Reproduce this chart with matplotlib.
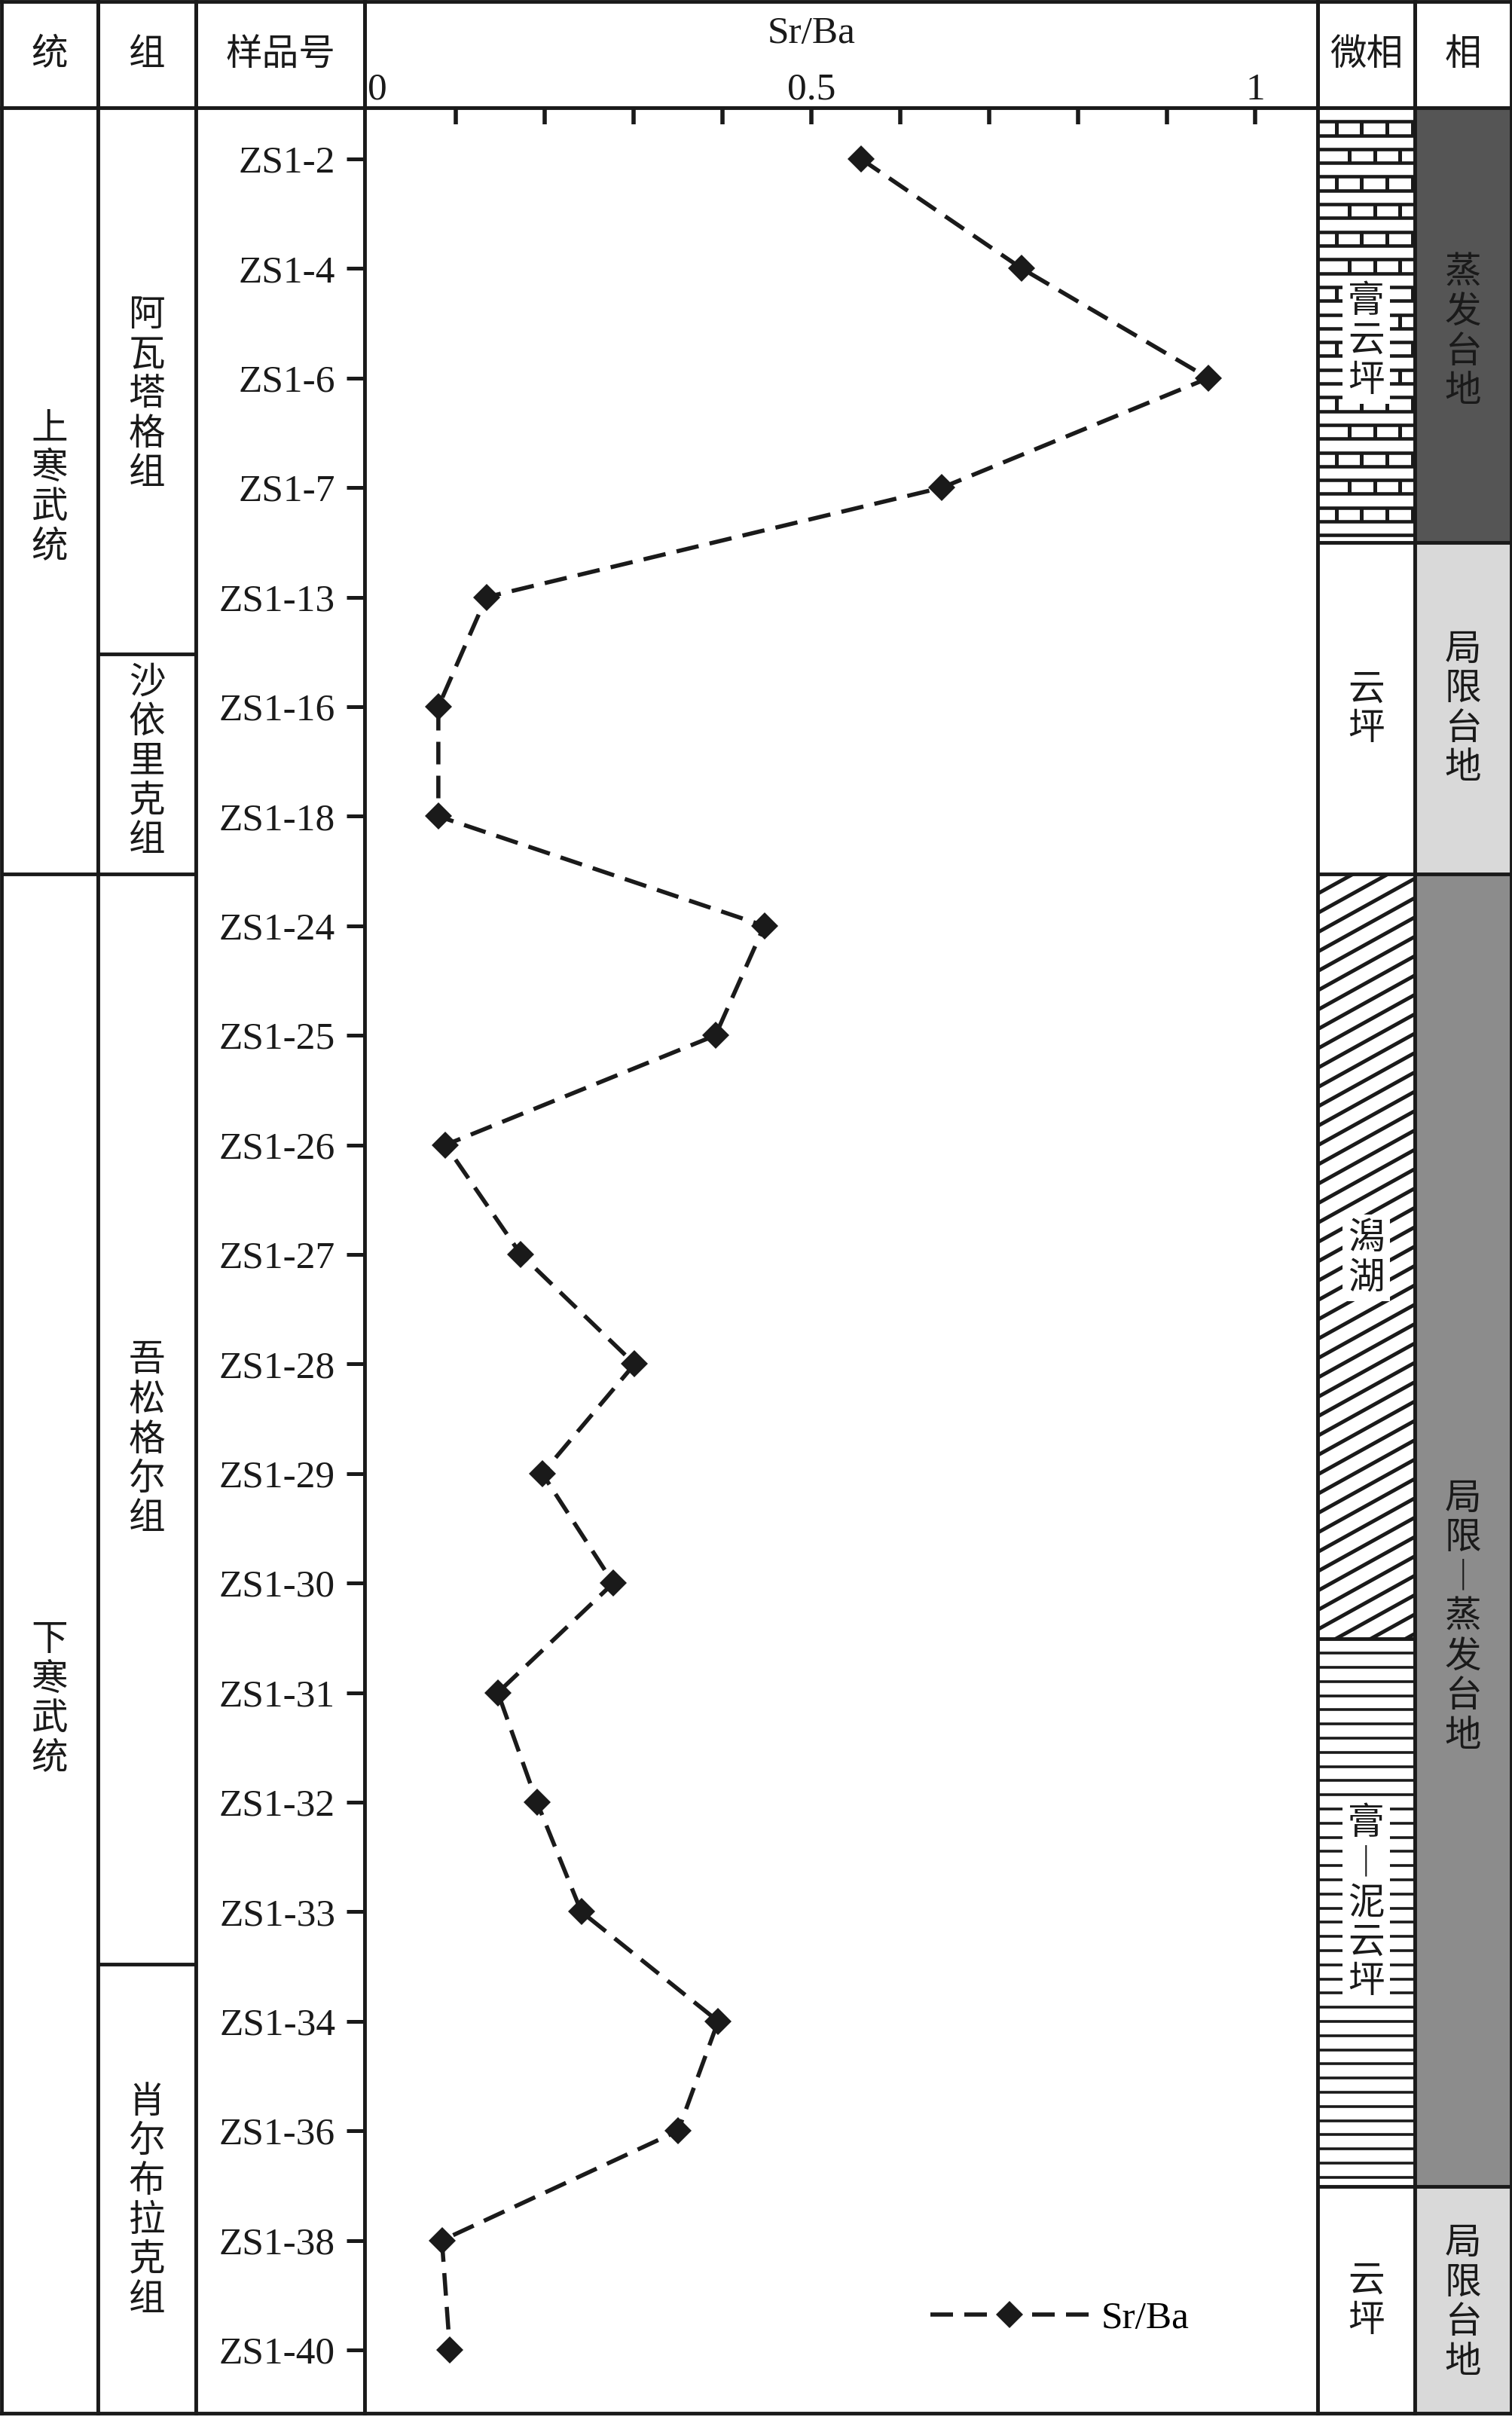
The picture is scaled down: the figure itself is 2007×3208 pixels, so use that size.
import numpy as np
import matplotlib
matplotlib.use("Agg")
import matplotlib.pyplot as plt
from matplotlib.patches import Rectangle
from matplotlib.transforms import blended_transform_factory

CJK = ['Noto Sans CJK SC', 'DejaVu Sans']
LAT = ['Liberation Serif', 'DejaVu Serif']
INK = '#1a1a1a'

####### data #######
samples = ['ZS1-2', 'ZS1-4', 'ZS1-6', 'ZS1-7', 'ZS1-13', 'ZS1-16', 'ZS1-18',
           'ZS1-24', 'ZS1-25', 'ZS1-26', 'ZS1-27', 'ZS1-28', 'ZS1-29', 'ZS1-30',
           'ZS1-31', 'ZS1-32', 'ZS1-33', 'ZS1-34', 'ZS1-36', 'ZS1-38', 'ZS1-40']
sr_ba = [0.556, 0.737, 0.947, 0.647, 0.134, 0.080, 0.080,
         0.447, 0.392, 0.088, 0.173, 0.301, 0.197, 0.277,
         0.147, 0.191, 0.241, 0.395, 0.350, 0.084, 0.093]

xlabel_vals = [0, 0.5, 1]
xlabel_txt = ['0', '0.5', '1']

# boundaries and label centres are in sample-index units
series_names = ['上寒武统', '下寒武统']
series_bounds = [6.53]
series_text_y = [3.0, 14.06]

formation_names = ['阿瓦塔格组', '沙依里克组', '吾松格尔组', '肖尔布拉克组']
formation_bounds = [4.52, 6.53, 16.48]
formation_text_y = [2.15, 5.5, 11.69, 18.64]

micro_names = ['膏云坪', '云坪', '潟湖', '膏—泥云坪', '云坪']
micro_bounds = [3.5, 6.53, 13.51, 18.51]
micro_fill = ['brick', None, 'diag', 'hline', None]
micro_text_y = [1.66, 5.02, 10.03, 15.92, 19.55]

facies_names = ['蒸发台地', '局限台地', '局限—蒸发台地', '局限台地']
facies_bounds = [3.5, 6.53, 18.51]
facies_colors = ['#555555', '#d9d9d9', '#8c8c8c', '#d9d9d9']
facies_text_y = [1.58, 5.02, 13.31, 19.57]

headers = ['统', '组', '样品号', 'Sr/Ba', '微相', '相']

####### layout (pixels) #######
W, H = 2008, 3208
col_edges = [2, 130, 260, 484, 1749, 1878, 2006]
head_top, head_bot, body_bot = 2, 143, 3203
pos = np.arange(len(samples))
y_lo, y_hi = -0.468, len(samples) - 1 + 0.578
ppi = (body_bot - head_bot) / (y_hi - y_lo)   # pixels per sample step
step = 52.5 / ppi                              # vertical char advance
LW = 3.5

fig = plt.figure(figsize=(W / 100, H / 100), dpi=100)


def box(x0, x1, y0, y1):
    return [x0 / W, 1 - y1 / H, (x1 - x0) / W, (y1 - y0) / H]


def style_frame(ax):
    for s in ax.spines.values():
        s.set_linewidth(LW)
        s.set_color(INK)


def spans(bounds):
    e = [y_lo] + list(bounds) + [y_hi]
    return list(zip(e[:-1], e[1:]))


def vtext(ax, x, yc, s, white=False, **kw):
    chars = ['︱' if c == '—' else c for c in s]
    n = len(chars)
    for k, c in enumerate(chars):
        t = ax.text(x, yc + (k - (n - 1) / 2) * step, c, ha='center', va='center',
                    family=CJK, fontsize=35, color=INK, zorder=5, **kw)
        if white:
            t.set_bbox(dict(fc='white', ec='none', pad=5))


# header cells (transparent so the axis tick labels show through)
heads = []
for i, h in enumerate(headers):
    hx = fig.add_axes(box(col_edges[i], col_edges[i + 1], head_top, head_bot))
    hx.set_facecolor('none')
    style_frame(hx)
    hx.set_xticks([])
    hx.set_yticks([])
    heads.append(hx)

# body columns
cols = []
for i in range(6):
    bx = fig.add_axes(box(col_edges[i], col_edges[i + 1], head_bot, body_bot))
    style_frame(bx)
    bx.set_ylim(y_hi, y_lo)
    cols.append(bx)
for i in [0, 1, 2, 4, 5]:
    cols[i].set_xlim(0, 1)
    cols[i].set_xticks([])
    cols[i].set_yticks([])
ax = cols[3]

for hx, h in zip(heads, headers):
    if h == 'Sr/Ba':
        tr = blended_transform_factory(ax.transData, hx.transAxes)
        hx.text(0.5, 0.70, h, ha='center', va='center', family=LAT, fontsize=37,
                color=INK, transform=tr)
    else:
        hx.text(0.5, 0.50, h, ha='center', va='center', family=CJK, fontsize=35,
                color=INK, transform=hx.transAxes)

# 统 / 组 columns
for cax, names, bounds, ty in [(cols[0], series_names, series_bounds, series_text_y),
                               (cols[1], formation_names, formation_bounds, formation_text_y)]:
    for b in bounds:
        cax.axhline(b, color=INK, lw=LW)
    for name, y in zip(names, ty):
        vtext(cax, 0.5, y, name)

# 相 column
fax = cols[5]
for (a, b), c in zip(spans(facies_bounds), facies_colors):
    fax.axhspan(a, b, color=c, lw=0)
for b in facies_bounds:
    fax.axhline(b, color=INK, lw=LW)
for name, y in zip(facies_names, facies_text_y):
    vtext(fax, 0.5, y, name)

# 微相 column with lithology patterns
max_ = cols[4]
colw = col_edges[5] - col_edges[4]


def fill_brick(a, b):
    gap = 18.3 / ppi
    ys = a + gap * np.arange(1, int((b - a) / gap) + 1)
    ys = ys[ys < b - 0.3 * gap]
    for y in ys:
        max_.plot([0, 1], [y, y], color=INK, lw=3.3, solid_capstyle='butt')
    row = 0
    for k in range(0, len(ys) - 1, 2):
        start = 25 if row % 2 == 0 else 42
        for xp in np.arange(start, colw, 33.5):
            max_.plot([xp / colw, xp / colw], [ys[k], ys[k + 1]], color=INK, lw=3.6,
                      solid_capstyle='butt')
        row += 1


def fill_hline(a, b):
    gap = 18.8 / ppi
    ys = a + gap * np.arange(1, int((b - a) / gap) + 1)
    for y in ys[ys < b - 0.3 * gap]:
        max_.plot([0, 1], [y, y], color=INK, lw=2.6, solid_capstyle='butt')


def fill_diag(a, b):
    clip = Rectangle((0, a), 1, b - a, transform=max_.transData, fc='none', ec='none')
    max_.add_patch(clip)
    rise = colw * np.tan(np.radians(29)) / ppi
    gap = 25.7 / ppi
    for c in np.arange(a, b + rise + gap, gap):
        ln, = max_.plot([0, 1], [c, c - rise], color=INK, lw=3.6)
        ln.set_clip_path(clip)


fills = {'brick': fill_brick, 'hline': fill_hline, 'diag': fill_diag}
for (a, b), kind in zip(spans(micro_bounds), micro_fill):
    if kind in fills:
        fills[kind](a, b)
for b in micro_bounds:
    max_.axhline(b, color=INK, lw=LW, zorder=4)
for name, y, kind in zip(micro_names, micro_text_y, micro_fill):
    vtext(max_, 0.5, y, name, white=kind is not None)
max_.set_xlim(0, 1)
max_.set_ylim(y_hi, y_lo)

# Sr/Ba profile
ax.plot(sr_ba, pos, color=INK, lw=4, ls='--', dashes=(5.4, 2.7), marker='D', ms=18,
        mfc=INK, mec=INK, mew=0, label='Sr/Ba', zorder=3)
ax.set_xlim(-0.003, 1.07)
ax.set_ylim(y_hi, y_lo)
ax.set_yticks(pos)
ax.set_yticklabels(samples, family=LAT, fontsize=37, color=INK)
ax.tick_params(axis='y', direction='out', length=17, width=3.6, pad=11, color=INK)

ax.xaxis.tick_top()
ax.xaxis.remove_overlapping_locs = False
ax.set_xticks(xlabel_vals)
ax.set_xticklabels(xlabel_txt, family=LAT, fontsize=37, color=INK)
ax.set_xticks(np.arange(1, 11) / 10, minor=True)
ax.tick_params(axis='x', which='major', length=0, pad=0)
ax.tick_params(axis='x', which='minor', direction='in', length=16, width=4, color=INK)
ax.xaxis.get_major_ticks()[0].label2.set_horizontalalignment('left')

ax.legend(loc='center left', bbox_to_anchor=(0.594, 0.041), frameon=False,
          prop={'family': LAT, 'size': 37}, handlelength=4.08, handletextpad=0.32,
          borderpad=0, borderaxespad=0, numpoints=1)

fig.savefig('out.png', dpi=100, facecolor='white')
